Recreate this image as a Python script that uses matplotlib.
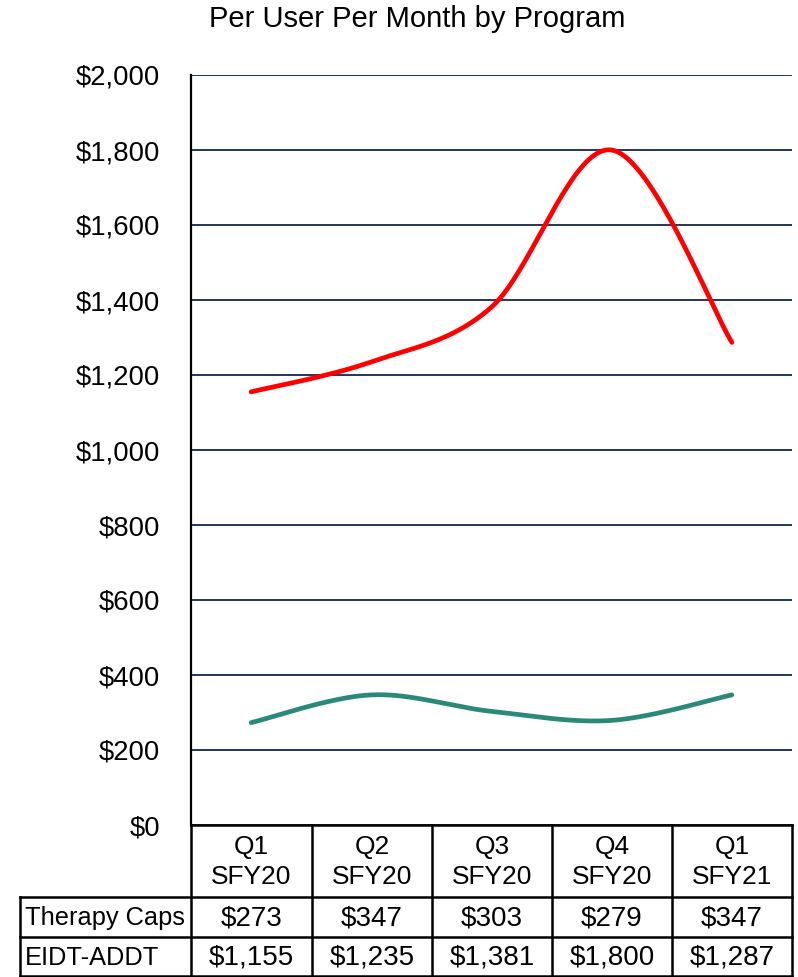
import numpy as np
import matplotlib
matplotlib.use("Agg")
import matplotlib.pyplot as plt
from matplotlib.lines import Line2D

plt.rcParams['font.family'] = ['Liberation Sans', 'DejaVu Sans']

categories = ["Q1\nSFY20", "Q2\nSFY20", "Q3\nSFY20", "Q4\nSFY20", "Q1\nSFY21"]
therapy_caps = [273, 347, 303, 279, 347]
eidt_addt = [1155, 1235, 1381, 1800, 1287]
series_names = ["Therapy Caps", "EIDT-ADDT"]
series_colors = ["#2A8A7A", "#FF0000"]
y_ticks = [0, 200, 400, 600, 800, 1000, 1200, 1400, 1600, 1800, 2000]


def smooth_curve(xs, ys, n=40):
    """Cubic Bezier smoothing through every point (spreadsheet-style)."""
    xs = np.asarray(xs, float)
    ys = np.asarray(ys, float)
    px = np.concatenate([[xs[0]], xs, [xs[-1]]])
    py = np.concatenate([[ys[0]], ys, [ys[-1]]])
    out_x, out_y = [], []
    t = np.linspace(0, 1, n)
    for i in range(1, len(px) - 2):
        p0 = np.array([px[i], py[i]])
        p3 = np.array([px[i + 1], py[i + 1]])
        p1 = p0 + (np.array([px[i + 1], py[i + 1]]) - np.array([px[i - 1], py[i - 1]])) / 6
        p2 = p3 - (np.array([px[i + 2], py[i + 2]]) - np.array([px[i], py[i]])) / 6
        b = ((1 - t) ** 3)[:, None] * p0 + (3 * (1 - t) ** 2 * t)[:, None] * p1 \
            + (3 * (1 - t) * t ** 2)[:, None] * p2 + (t ** 3)[:, None] * p3
        out_x.extend(b[:, 0])
        out_y.extend(b[:, 1])
    return np.array(out_x), np.array(out_y)


W, H = 798, 977
fig = plt.figure(figsize=(W / 100, H / 100), dpi=100)

left, right, top, bottom = 191, 792, 75, 825
ax = fig.add_axes([left / W, 1 - bottom / H, (right - left) / W, (bottom - top) / H])

x = np.arange(len(categories))
for vals, color in zip([therapy_caps, eidt_addt], series_colors):
    sx, sy = smooth_curve(x, vals)
    ax.plot(sx, sy, color=color, lw=3.4, solid_capstyle='round', zorder=3)

ax.set_xlim(-0.5, len(categories) - 0.5)
ax.set_ylim(0, 2000)
ax.set_yticks(y_ticks)
ax.set_yticklabels([f"${v:,.0f}" for v in y_ticks])
ax.set_xticks([])
ax.tick_params(axis='y', length=0, pad=22, labelsize=19.8)
ax.yaxis.grid(True, color="#25355A", lw=1.4)
ax.set_axisbelow(True)
for s in ['top', 'right', 'bottom']:
    ax.spines[s].set_visible(False)
ax.spines['left'].set_color('black')
ax.spines['left'].set_linewidth(1.6)

fig.text(417 / W, 1 - 19 / H, "Per User Per Month by Program",
         ha='center', va='center', fontsize=21)

# Data table under the axis
col_edges = [191, 312, 432, 552, 672, 792]
row_edges = [825, 897, 937, 977]
label_left = 20
lw = 1.8


def fx(px):
    return px / W


def fy(py):
    return 1 - py / H


def hline(x0, x1, y):
    fig.add_artist(Line2D([fx(x0), fx(x1)], [fy(y), fy(y)], color='black', lw=lw))


def vline(x, y0, y1):
    fig.add_artist(Line2D([fx(x), fx(x)], [fy(y0), fy(y1)], color='black', lw=lw))


hline(col_edges[0], col_edges[-1], row_edges[0])
hline(label_left, col_edges[-1], row_edges[1])
hline(label_left, col_edges[-1], row_edges[2])
hline(label_left, col_edges[-1], row_edges[3] - 1)
for cx in col_edges:
    vline(cx, row_edges[0], row_edges[3])
vline(label_left, row_edges[1], row_edges[3])

for i, cat in enumerate(categories):
    cx = (col_edges[i] + col_edges[i + 1]) / 2
    fig.text(fx(cx), fy((row_edges[0] + row_edges[1]) / 2 + 1), cat,
             ha='center', va='center', fontsize=19, linespacing=1.3)

for r, (name, vals) in enumerate(zip(series_names, [therapy_caps, eidt_addt])):
    cy = (row_edges[r + 1] + row_edges[r + 2]) / 2 + 1
    fig.text(fx(label_left + 5), fy(cy), name, ha='left', va='center', fontsize=18.3)
    for i, v in enumerate(vals):
        cx = (col_edges[i] + col_edges[i + 1]) / 2
        fig.text(fx(cx), fy(cy), f"${v:,.0f}", ha='center', va='center', fontsize=20)

fig.savefig("out.png", dpi=100)
